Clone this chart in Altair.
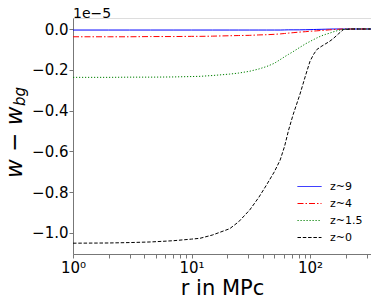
import altair as alt
import pandas as pd

# radius in Mpc
r_mpc = [1, 2, 3, 4.5, 7, 10, 11.8, 15, 21, 25, 31, 37, 43, 50, 56, 61, 66, 72,
         82, 92, 100, 107, 114, 124, 134, 145, 157, 175, 191, 220, 340]

# w - w_bg in units of 1e-5
z9 = [-0.005, -0.005, -0.005, -0.005, -0.005, -0.005, -0.005, -0.005, -0.005, -0.005,
      -0.005, -0.005, -0.005, -0.005, -0.005, -0.0045, -0.004, -0.004, -0.004, -0.0035,
      -0.003, -0.0025, -0.002, -0.0015, -0.001, -0.0005, 0.0, 0.0, 0.0, 0.0, 0.0]
z4 = [-0.038, -0.038, -0.038, -0.037, -0.037, -0.036, -0.036, -0.035, -0.033, -0.032,
      -0.031, -0.029, -0.028, -0.026, -0.024, -0.022, -0.020, -0.018, -0.015, -0.013,
      -0.011, -0.010, -0.009, -0.007, -0.006, -0.004, -0.003, -0.001, 0.0, 0.0, 0.0]
z15 = [-0.237, -0.237, -0.236, -0.236, -0.235, -0.233, -0.232, -0.228, -0.221, -0.216,
       -0.207, -0.196, -0.184, -0.168, -0.150, -0.136, -0.124, -0.111, -0.090, -0.072,
       -0.061, -0.052, -0.044, -0.034, -0.027, -0.021, -0.014, -0.006, -0.001, 0.0, 0.0]
z0 = [-1.050, -1.049, -1.047, -1.044, -1.038, -1.030, -1.026, -1.010, -0.979, -0.945,
      -0.887, -0.825, -0.764, -0.700, -0.642, -0.575, -0.495, -0.420, -0.322, -0.225,
      -0.158, -0.125, -0.101, -0.086, -0.074, -0.062, -0.047, -0.022, -0.003, 0.0, 0.0]

series_names = ["z~9", "z~4", "z~1.5", "z~0"]
series_values = [z9, z4, z15, z0]
series_colors = ["#0000ff", "#ff0000", "#008000", "#000000"]
series_dashes = [[1, 0], [6, 2, 1.5, 2], [1.2, 1.8], [3.5, 1.8]]

x_ticks = [1, 2, 3, 4, 5, 6, 7, 8, 9, 10, 20, 30, 40, 50, 60, 70, 80, 90, 100, 200, 300]
y_ticks = [0.0, -0.2, -0.4, -0.6, -0.8, -1.0]

rows = []
for name, vals in zip(series_names, series_values):
    for r, v in zip(r_mpc, vals):
        rows.append({"r": r, "w": v, "series": name})
df = pd.DataFrame(rows)

FONT = "DejaVu Sans"
AX = "#777777"

legend_kw = dict(title=None, orient="none", legendX=224, legendY=162,
                 symbolType="stroke", symbolSize=576, symbolStrokeWidth=1,
                 clipHeight=13, rowPadding=4, labelFontSize=11, labelFont=FONT,
                 labelOffset=8, padding=0)

lines = alt.Chart(df).mark_line(strokeWidth=1, clip=True).encode(
    x=alt.X("r:Q",
            scale=alt.Scale(type="log", domain=[1, 327], nice=False),
            axis=alt.Axis(values=x_ticks,
                          labelExpr="datum.value==1?'10⁰':datum.value==10?'10¹':datum.value==100?'10²':''",
                          title="r in MPc", titleFontSize=21, titleFont=FONT,
                          titleFontWeight="normal", titlePadding=2, titleColor="black",
                          labelFontSize=15, labelFont=FONT, labelColor="black",
                          labelPadding=2, tickSize=4, tickColor=AX, domainColor=AX,
                          grid=False, labelFlush=False, labelOverlap=False)),
    y=alt.Y("w:Q",
            scale=alt.Scale(domain=[-1.103, 0.054], nice=False, zero=False),
            axis=alt.Axis(values=y_ticks, format=".1f",
                          labelExpr="replace(datum.label, '-', '−')",
                          title=None, labelFontSize=15, labelFont=FONT,
                          labelColor="black", labelPadding=1, tickSize=4,
                          tickColor=AX, domainColor=AX, grid=False)),
    color=alt.Color("series:N",
                    scale=alt.Scale(domain=series_names, range=series_colors),
                    legend=alt.Legend(**legend_kw)),
    strokeDash=alt.StrokeDash("series:N",
                              scale=alt.Scale(domain=series_names, range=series_dashes),
                              legend=alt.Legend(**legend_kw)),
)

offset_txt = alt.Chart(pd.DataFrame({"t": ["1e−5"]})).mark_text(
    align="left", baseline="alphabetic", fontSize=14, font=FONT, color="black"
).encode(x=alt.value(0), y=alt.value(0), text="t:N")

ytitle_main = alt.Chart(pd.DataFrame({"t": ["w − w"]})).mark_text(
    align="left", baseline="alphabetic", angle=270, fontSize=23, font=FONT,
    fontStyle="italic", color="black"
).encode(x=alt.value(-51), y=alt.value(160), text="t:N")

ytitle_sub = alt.Chart(pd.DataFrame({"t": ["bg"]})).mark_text(
    align="left", baseline="alphabetic", angle=270, fontSize=15, font=FONT,
    fontStyle="italic", color="black"
).encode(x=alt.value(-48), y=alt.value(88), text="t:N")

chart = alt.layer(lines, offset_txt, ytitle_main, ytitle_sub).properties(
    width=298, height=236,
    autosize=alt.AutoSizeParams(type="none"),
    padding={"left": 65, "top": 10, "right": 0, "bottom": 41},
).configure_view(stroke=AX, strokeWidth=1).configure(background="white")

chart.save("out.html", embed_options={"renderer": "svg", "actions": False})
